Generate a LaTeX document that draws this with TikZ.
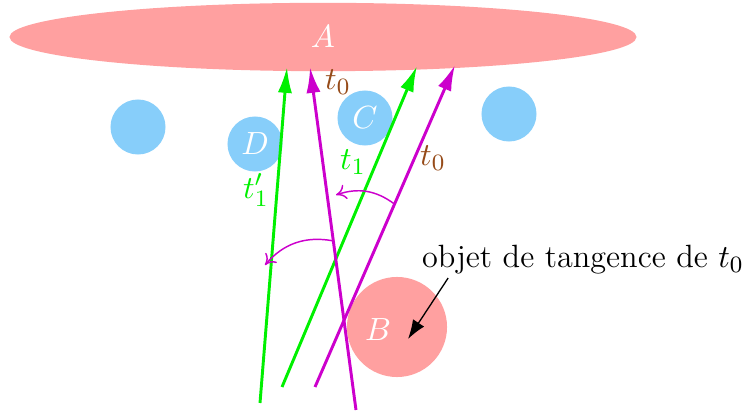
\documentclass[tikz,border=0pt]{standalone}
\usetikzlibrary{arrows.meta, shapes.geometric, calc}
\definecolor{pinkobj}{RGB}{255,160,160}
\definecolor{blueobj}{RGB}{135,206,250}
\definecolor{rayvert}{RGB}{0,240,0}
\definecolor{raymag}{RGB}{204,0,204}
\definecolor{tbrown}{RGB}{150,75,25}

\begin{document}
\begin{tikzpicture}[
    x=0.012cm, y=-0.012cm,
    every node/.style={font=\fontsize{11}{13}\selectfont},
    obstacle/.style={circle, fill=blueobj, minimum size=0.66cm, inner sep=0pt, text=white},
    bigobj/.style={circle, fill=pinkobj, minimum size=1.2cm, inner sep=0pt},
    ray/.style={line width=1pt, -{Latex[length=3.1mm, width=1.7mm]}},
    turn/.style={draw=raymag, line width=0.5pt, -{To[length=1.2mm, width=1.8mm]}},
    pointer/.style={black, line width=0.45pt, -{Latex[length=2.3mm, width=1.6mm]}}
]
\useasboundingbox (0,0) rectangle (750,414);
%% Target object
\node[ellipse, fill=pinkobj, minimum width=7.52cm, minimum height=0.82cm,
      inner sep=0pt, text=white] (A) at (323,37) {$A$};
%% Obstacles
\node[obstacle] (o1) at (138,127) {};
\node[obstacle] (D)  at (255,144) {$D$};
\node[obstacle] (C)  at (365,118) {$C$};
\node[obstacle] (o4) at (509,114) {};
\node[bigobj] (B) at (397,327) {};
\node[text=white] (Blabel) at (378,330) {$B$};
%% Rays
\foreach \n/\c/\sx/\sy/\ex/\ey in {g1/rayvert/260/403/287/67, g2/rayvert/282/387/417/66,
                                   m1/raymag/315/387/455/65, m2/raymag/356/410/310/67} {
    \coordinate (\n s) at (\sx,\sy);
    \coordinate (\n e) at (\ex,\ey);
    \draw[ray, \c] (\n s) -- (\n e);
}
%% Rotations
\coordinate (turnAend) at (336,195);
\coordinate (turnBend) at (265,265);
\draw[turn] ($(m1s)!0.568!(m1e)$) to[bend right=28] (turnAend);
\draw[turn] ($(m2s)!0.493!(m2e)$) to[bend right=30] (turnBend);
%% Labels
\node[text=tbrown] (t0a) at (338,82) {$t_0$};
\node[text=tbrown] (t0b) at (433,158) {$t_0$};
\node[text=rayvert] (t1) at (353,162) {$t_1$};
\node[text=rayvert] (t1p) at (256,190) {$t'_1$};
%% Annotation
\node[inner sep=1pt] (note) at (583,260) {objet de tangence de $t_0$};
\coordinate (notetip) at (408,339);
\draw[pointer] ($(note.south west)!0.09!(note.south east)$) -- (notetip);
\end{tikzpicture}
\end{document}
